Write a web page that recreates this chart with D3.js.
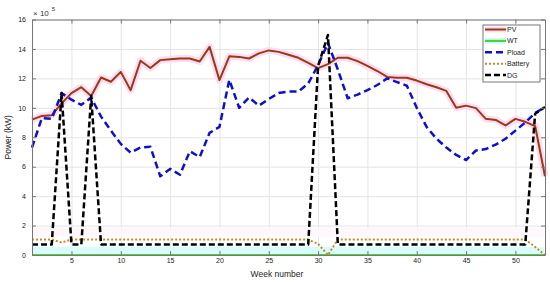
<!DOCTYPE html>
<html>
<head>
<meta charset="utf-8">
<script src="https://cdn.jsdelivr.net/npm/d3@7"></script>
<style>
  body { margin: 0; background: #fff; }
  svg { display: block; font-family: "Liberation Sans", Arial, sans-serif; }
  .axis text { font-size: 7px; fill: #222; }
  .axis path, .axis line { stroke: #777; }
  .grid line { stroke: #e4e4e4; }
  .grid path { stroke: none; }
</style>
</head>
<body>
<svg id="chart" width="550" height="282"></svg>
<script>
// weekly power, in units of 10^5 kW
var weeks = [1,2,3,4,5,6,7,8,9,10,11,12,13,14,15,16,17,18,19,20,21,22,23,24,25,26,27,
  28,29,30,31,32,33,34,35,36,37,38,39,40,41,42,43,44,45,46,47,48,49,50,51,52,53];

var pv = [9.2,9.45,9.5,10.3,11.0,11.4,10.8,12.06,11.77,12.44,11.2,13.2,12.7,13.24,13.3,
  13.35,13.35,13.15,14.14,11.88,13.5,13.46,13.35,13.7,13.9,13.8,13.6,13.4,13.06,12.7,
  12.97,13.4,13.4,13.17,12.85,12.5,12.1,12.04,12.04,11.85,11.6,11.4,11.15,10.0,10.15,
  9.98,9.25,9.18,8.8,9.25,9.05,8.76,5.35];

var wt = [0,0,0,0,0,0,0,0,0,0,0,0,0,0,0,0,0,0,0,0,0,0,0,0,0,0,0,0,0,0,0,0,0,0,0,0,0,
  0,0,0,0,0,0,0,0,0,0,0,0,0,0,0,0];

var pload = [7.3,9.3,9.25,11.0,10.55,10.2,10.7,9.4,8.45,7.55,6.95,7.3,7.35,5.35,5.85,
  5.45,7.05,6.65,8.3,8.7,11.9,10.0,10.7,10.15,10.6,11.0,11.1,11.1,11.65,12.9,14.4,
  12.6,10.65,10.9,11.2,11.55,12.0,11.75,11.5,10.0,8.7,7.9,7.3,6.8,6.45,7.1,7.2,7.5,
  7.9,8.45,9.0,9.65,10.05];

var battery = [1.05,1.05,1.05,0.85,1.05,1.05,1.05,1.05,1.05,1.05,1.05,1.05,1.05,1.05,
  1.05,1.05,1.05,1.05,1.05,1.05,1.05,1.05,1.05,1.05,1.05,1.05,1.05,1.05,1.05,0.75,0,
  1.05,1.05,1.05,1.05,1.05,1.05,1.05,1.05,1.05,1.05,1.05,1.05,1.05,1.05,1.05,1.05,
  1.05,1.05,1.05,1.05,0.55,0];

var dg = [0.72,0.72,0.72,11.0,0.72,0.72,10.8,0.72,0.72,0.72,0.72,0.72,0.72,0.72,0.72,
  0.72,0.72,0.72,0.72,0.72,0.72,0.72,0.72,0.72,0.72,0.72,0.72,0.72,0.72,12.85,14.95,
  0.72,0.72,0.72,0.72,0.72,0.72,0.72,0.72,0.72,0.72,0.72,0.72,0.72,0.72,0.72,0.72,
  0.72,0.72,0.72,0.72,9.6,10.05];

var xTicks = [5,10,15,20,25,30,35,40,45,50];
var yTicks = [0,2,4,6,8,10,12,14,16];

var plotLeft = 32, plotRight = 545, plotTop = 19.5, plotBottom = 255;

var x = d3.scaleLinear().domain([1, 53]).range([plotLeft, plotRight]);
var y = d3.scaleLinear().domain([0, 16]).range([plotBottom, plotTop]);

var svg = d3.select("#chart");

// grid
svg.append("g")
    .attr("class", "grid")
    .attr("transform", "translate(0," + plotBottom + ")")
    .call(d3.axisBottom(x).tickValues(xTicks).tickSize(-(plotBottom - plotTop)).tickFormat(""));
svg.append("g")
    .attr("class", "grid")
    .attr("transform", "translate(" + plotLeft + ",0)")
    .call(d3.axisLeft(y).tickValues(yTicks).tickSize(-(plotRight - plotLeft)).tickFormat(""));

// light bands near the bottom (as in the source image)
svg.append("rect")
    .attr("x", plotLeft + 1).attr("y", y(0) - 8)
    .attr("width", plotRight - plotLeft - 2).attr("height", 7)
    .style("fill", "#d6fcfc");
svg.append("rect")
    .attr("x", plotLeft + 1).attr("y", y(1.85))
    .attr("width", plotRight - plotLeft - 2).attr("height", 9)
    .style("fill", "#fff7fc");

var line = d3.line()
    .x(function(d, i) { return x(weeks[i]); })
    .y(function(d) { return y(d); });

var series = [
  {name: "PV", values: pv, color: "#983a12", width: 2, dash: null},
  {name: "WT", values: wt, color: "#55cc33", width: 2.2, dash: null},
  {name: "Pload", values: pload, color: "#1010cc", width: 2.5, dash: "7,4"},
  {name: "Battery", values: battery, color: "#c28a2c", width: 2, dash: "2,2"},
  {name: "DG", values: dg, color: "#000", width: 2.5, dash: "6,3"}
];

// pink halo behind PV
svg.append("path")
    .attr("d", line(pv))
    .style("fill", "none")
    .style("stroke", "#ffdcf3")
    .style("stroke-width", 7)
    .style("stroke-linejoin", "round");

series.forEach(function(s) {
  svg.append("path")
      .attr("d", line(s.values))
      .style("fill", "none")
      .style("stroke", s.color)
      .style("stroke-width", s.width)
      .style("stroke-dasharray", s.dash)
      .style("stroke-linejoin", "round");
});

// axes, ticks pointing inwards on all four sides
svg.append("g")
    .attr("class", "axis")
    .attr("transform", "translate(0," + plotBottom + ")")
    .call(d3.axisBottom(x).tickValues(xTicks).tickSize(-4).tickPadding(3).tickSizeOuter(0));
svg.append("g")
    .attr("class", "axis")
    .attr("transform", "translate(" + plotLeft + ",0)")
    .call(d3.axisLeft(y).tickValues(yTicks).tickSize(-4).tickPadding(6).tickSizeOuter(0));
svg.append("g")
    .attr("class", "axis")
    .attr("transform", "translate(0," + plotTop + ")")
    .call(d3.axisTop(x).tickValues(xTicks).tickSize(-4).tickFormat("").tickSizeOuter(0));
svg.append("g")
    .attr("class", "axis")
    .attr("transform", "translate(" + plotRight + ",0)")
    .call(d3.axisRight(y).tickValues(yTicks).tickSize(-4).tickFormat("").tickSizeOuter(0));

// exponent
var ex = svg.append("text")
    .attr("x", 33).attr("y", 16)
    .style("font-size", "8px").style("fill", "#333");
ex.append("tspan").text("\u00d7 10");
ex.append("tspan").attr("dx", 3).attr("dy", -5).style("font-size", "6px").text("5");

// axis labels
svg.append("text")
    .attr("transform", "translate(11," + ((plotTop + plotBottom) / 2) + ") rotate(-90)")
    .style("text-anchor", "middle")
    .style("font-size", "8.5px").style("fill", "#222")
    .text("Power (kW)");
svg.append("text")
    .attr("x", 277).attr("y", 277)
    .style("text-anchor", "middle")
    .style("font-size", "8.5px").style("fill", "#222")
    .text("Week number");

// legend
var legend = svg.append("g").attr("transform", "translate(483,25)");
legend.append("rect")
    .attr("width", 57).attr("height", 57)
    .style("fill", "#fff").style("stroke", "#555").style("stroke-width", 0.8);

series.forEach(function(s, i) {
  var ly = 4.5 + i * 11.4;
  if (s.name == "PV") {
    legend.append("line")
        .attr("x1", 2).attr("x2", 23).attr("y1", ly).attr("y2", ly)
        .style("stroke", "#ffdcf3").style("stroke-width", 6);
  }
  if (s.name == "WT") {
    legend.append("line")
        .attr("x1", 2).attr("x2", 23).attr("y1", ly).attr("y2", ly)
        .style("stroke", "#ccffff").style("stroke-width", 6);
  }
  legend.append("line")
      .attr("x1", 2).attr("x2", 23).attr("y1", ly).attr("y2", ly)
      .style("stroke", s.color)
      .style("stroke-width", s.width)
      .style("stroke-dasharray", s.dash);
  legend.append("text")
      .attr("x", 24).attr("y", ly)
      .attr("dy", ".35em")
      .style("font-size", "7px").style("fill", "#222")
      .text(s.name);
});
</script>
</body>
</html>
